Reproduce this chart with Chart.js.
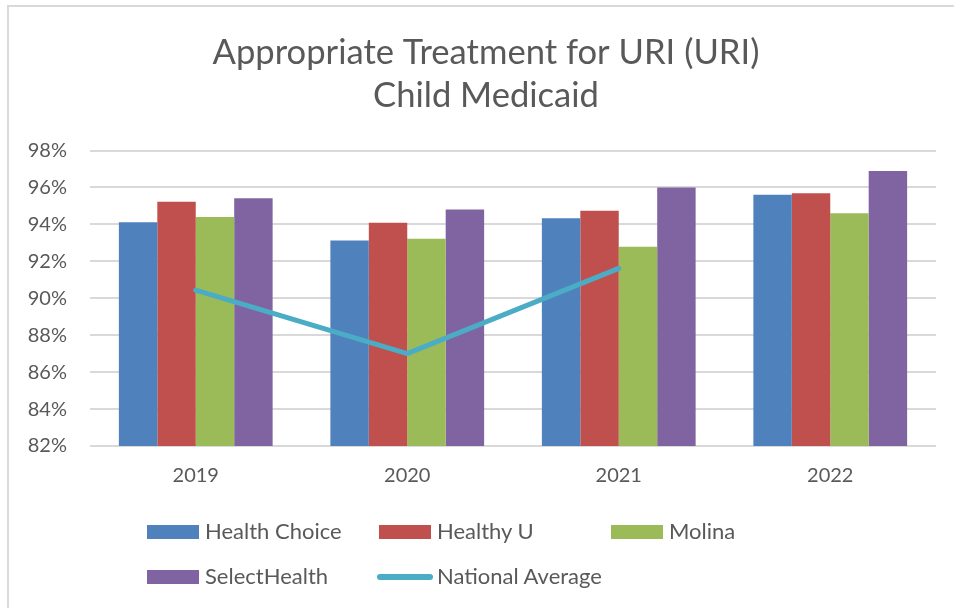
<!DOCTYPE html>
<html>
<head>
<meta charset="utf-8">
<script src="https://cdn.jsdelivr.net/npm/chart.js@4"></script>
<style>
  body { margin: 0; background: #fff; font-family: Lato, sans-serif; }
  #wrap { position: relative; width: 954px; height: 608px; overflow: hidden; }
  #frame { position: absolute; left: 7px; top: 5px; width: 980px; height: 640px; border: 2px solid #d9d9d9; }
  #chart { position: absolute; left: 0; top: 0; }
  .leg { position: absolute; font-size: 22px; color: #595959; white-space: nowrap; line-height: 26px; }
  .sw { position: absolute; left: 0; top: 7px; width: 52px; height: 14px; }
  .ln { position: absolute; left: 0; top: 11px; width: 56px; height: 6px; border-radius: 3px; }
</style>
</head>
<body>
<div id="wrap">
  <div id="frame"></div>
  <canvas id="chart" width="954" height="608"></canvas>
  <div id="legend"></div>
</div>
<script>
// chart values
const years = ["2019", "2020", "2021", "2022"];
const healthChoice = [94.11, 93.13, 94.33, 95.61];
const healthyU = [95.23, 94.09, 94.74, 95.68];
const molina = [94.40, 93.22, 92.79, 94.60];
const selectHealth = [95.41, 94.81, 96.00, 96.89];
const nationalAvg = [90.44, 87.00, 91.62, null];
const yTicks = [82, 84, 86, 88, 90, 92, 94, 96, 98];

const grey = "#595959";

const barSets = [
    { label: "Health Choice", data: healthChoice, color: "#4f81bd" },
    { label: "Healthy U", data: healthyU, color: "#c0504d" },
    { label: "Molina", data: molina, color: "#9bbb59" },
    { label: "SelectHealth", data: selectHealth, color: "#8064a2" }
];

let datasets = [{
    type: "line",
    label: "National Average",
    data: nationalAvg,
    borderColor: "#4bacc6",
    backgroundColor: "#4bacc6",
    borderWidth: 5,
    pointRadius: 0,
    borderCapStyle: "round",
    spanGaps: false,
    order: 0
}];
for (let i = 0; i < barSets.length; i++) {
    datasets.push({
        label: barSets[i].label,
        data: barSets[i].data,
        backgroundColor: barSets[i].color,
        borderWidth: 0,
        categoryPercentage: 0.727,
        barPercentage: 1.0,
        order: 1
    });
}

// the original title is centred on the framed area, a bit right of the plot
const titleShift = {
    id: "titleShift",
    beforeDraw: function (chart) {
        chart.titleBlock.left = 18;
        chart.titleBlock.right = 954;
    }
};

new Chart(document.getElementById("chart"), {
    type: "bar",
    data: { labels: years, datasets: datasets },
    plugins: [titleShift],
    options: {
        responsive: false,
        animation: false,
        layout: { padding: { left: 0, right: 18, top: 0, bottom: 0 } },
        plugins: {
            legend: { display: false },
            tooltip: { enabled: false },
            title: {
                display: true,
                text: ["Appropriate Treatment for URI (URI)", "Child Medicaid"],
                color: grey,
                font: { family: "Lato", size: 34.6, weight: "normal", lineHeight: 1.25 },
                padding: { top: 31, bottom: 33 }
            }
        },
        scales: {
            x: {
                grid: { display: false, drawTicks: false },
                border: { display: false },
                ticks: { color: grey, font: { family: "Lato", size: 20 }, padding: 18 },
                afterFit: function (s) { s.height = 162; }
            },
            y: {
                min: 82,
                max: 98,
                afterBuildTicks: function (s) { s.ticks = yTicks.map(v => ({ value: v })); },
                grid: { color: "#d9d9d9", lineWidth: 2, drawTicks: false },
                border: { display: false },
                ticks: {
                    color: grey,
                    font: { family: "Lato", size: 20 },
                    padding: 23,
                    callback: function (v) { return v + "%"; }
                },
                afterFit: function (s) { s.width = 90; }
            }
        }
    }
});

// legend laid out in fixed columns like the original
const legItems = [
    { label: "Health Choice", color: "#4f81bd", x: 147, y: 518, line: false },
    { label: "Healthy U", color: "#c0504d", x: 379, y: 518, line: false },
    { label: "Molina", color: "#9bbb59", x: 611, y: 518, line: false },
    { label: "SelectHealth", color: "#8064a2", x: 147, y: 563, line: false },
    { label: "National Average", color: "#4bacc6", x: 377, y: 563, line: true }
];
const legend = document.getElementById("legend");
for (let i = 0; i < legItems.length; i++) {
    const it = legItems[i];
    const d = document.createElement("div");
    d.className = "leg";
    d.style.left = it.x + "px";
    d.style.top = it.y + "px";
    d.style.paddingLeft = (it.line ? 60 : 58) + "px";
    const sw = document.createElement("span");
    sw.className = it.line ? "ln" : "sw";
    sw.style.background = it.color;
    d.appendChild(sw);
    d.appendChild(document.createTextNode(it.label));
    legend.appendChild(d);
}
</script>
</body>
</html>
